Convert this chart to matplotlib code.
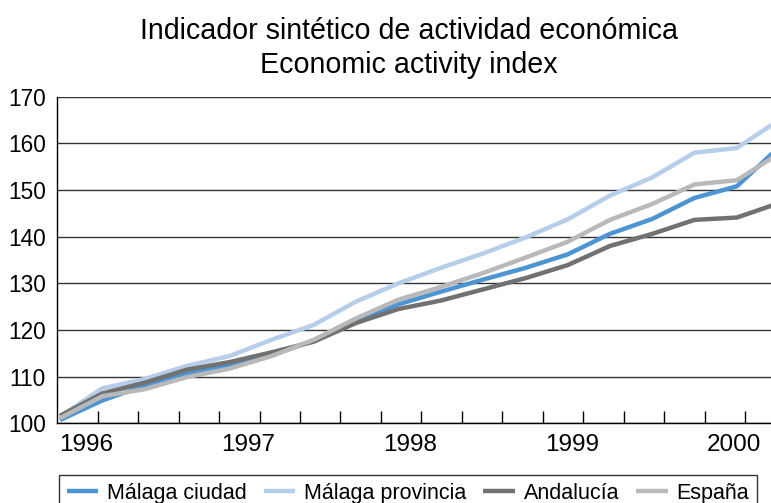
import numpy as np
import matplotlib
matplotlib.use("Agg")
import matplotlib.pyplot as plt

# ---- data ----
years = ["1996", "1997", "1998", "1999", "2000"]
series_names = ["Málaga ciudad", "Málaga provincia", "Andalucía", "España"]
malaga_ciudad = [100.7, 104.9, 108.1, 110.7, 112.5, 114.6, 117.7, 122.2, 125.5,
                 128.2, 130.8, 133.3, 136.2, 140.6, 143.8, 148.3, 150.8, 159.2]
malaga_provincia = [101.4, 107.5, 109.5, 112.3, 114.4, 117.9, 121.1, 126.1, 130.0,
                    133.3, 136.4, 139.8, 143.7, 148.8, 152.7, 158.0, 159.0, 165.0]
andalucia = [101.6, 106.4, 108.7, 111.5, 113.1, 115.2, 117.5, 121.5, 124.5,
             126.3, 128.7, 131.1, 133.9, 138.0, 140.6, 143.6, 144.1, 147.2]
espana = [101.1, 105.8, 107.3, 109.9, 111.7, 114.4, 117.9, 122.5, 126.5,
          129.2, 132.2, 135.5, 138.9, 143.6, 147.0, 151.2, 152.1, 157.8]
y_ticks = [100, 110, 120, 130, 140, 150, 160, 170]

# ---- style ----
colors = ["#4c94d2", "#b6cee9", "#717171", "#b9b9b9"]
plt.rcParams['font.family'] = ['Liberation Sans', 'DejaVu Sans']

W, H = 771, 503
fig = plt.figure(figsize=(W / 100, H / 100), dpi=100)
ax_left, ax_right, ax_top, ax_bottom = 57, 771, 96.7, 423.3
ax = fig.add_axes([ax_left / W, 1 - ax_bottom / H, (ax_right - ax_left) / W,
                   (ax_bottom - ax_top) / H])

x = np.arange(len(malaga_ciudad))
for vals, name, c in zip([malaga_ciudad, malaga_provincia, andalucia, espana],
                         series_names, colors):
    ax.plot(x, vals, color=c, lw=3.2, label=name, solid_joinstyle='miter',
            solid_capstyle='butt')

# x-scale: one period = 42.3 px, first point 3 px right of the axis
period_px = 42.3
tick_px = 40.5
x0 = -3 / period_px
ax.set_xlim(x0, x0 + (ax_right - ax_left) / period_px)
ax.set_ylim(100, 170)

minor_pos = [x0 + k * tick_px / period_px for k in range(1, 18)]
major_pos = [x0 + (0.72 + 4 * j) * tick_px / period_px for j in range(len(years))]
ax.set_xticks(minor_pos, minor=True)
ax.set_xticks(major_pos, years)
ax.tick_params(axis='x', which='minor', direction='in', length=9, width=1, color='black')
ax.tick_params(axis='x', which='major', length=0, pad=8, labelsize=17.5)

ax.set_yticks(y_ticks)
ax.tick_params(axis='y', length=0, pad=8, labelsize=16.3)
ax.yaxis.grid(True, color='#333333', lw=1)
ax.set_axisbelow(True)

for s in ['top', 'right']:
    ax.spines[s].set_visible(False)
for s in ['left', 'bottom']:
    ax.spines[s].set_color('black')
    ax.spines[s].set_linewidth(1)

# titles
fig.text(409 / W, 1 - 39 / H, "Indicador sintético de actividad económica",
         ha='center', va='baseline', fontsize=20.6)
fig.text(409 / W, 1 - 73 / H, "Economic activity index",
         ha='center', va='baseline', fontsize=20.6)

leg = fig.legend(loc='upper left', bbox_to_anchor=(59 / W, 1 - 475 / H),
                 ncol=4, frameon=True, fancybox=False, fontsize=15.5,
                 handlelength=1.45, handletextpad=0.42, columnspacing=0.8,
                 borderpad=0.35, borderaxespad=0)
leg.get_frame().set_edgecolor('black')
leg.get_frame().set_linewidth(1)

fig.savefig("out.png", dpi=100)
